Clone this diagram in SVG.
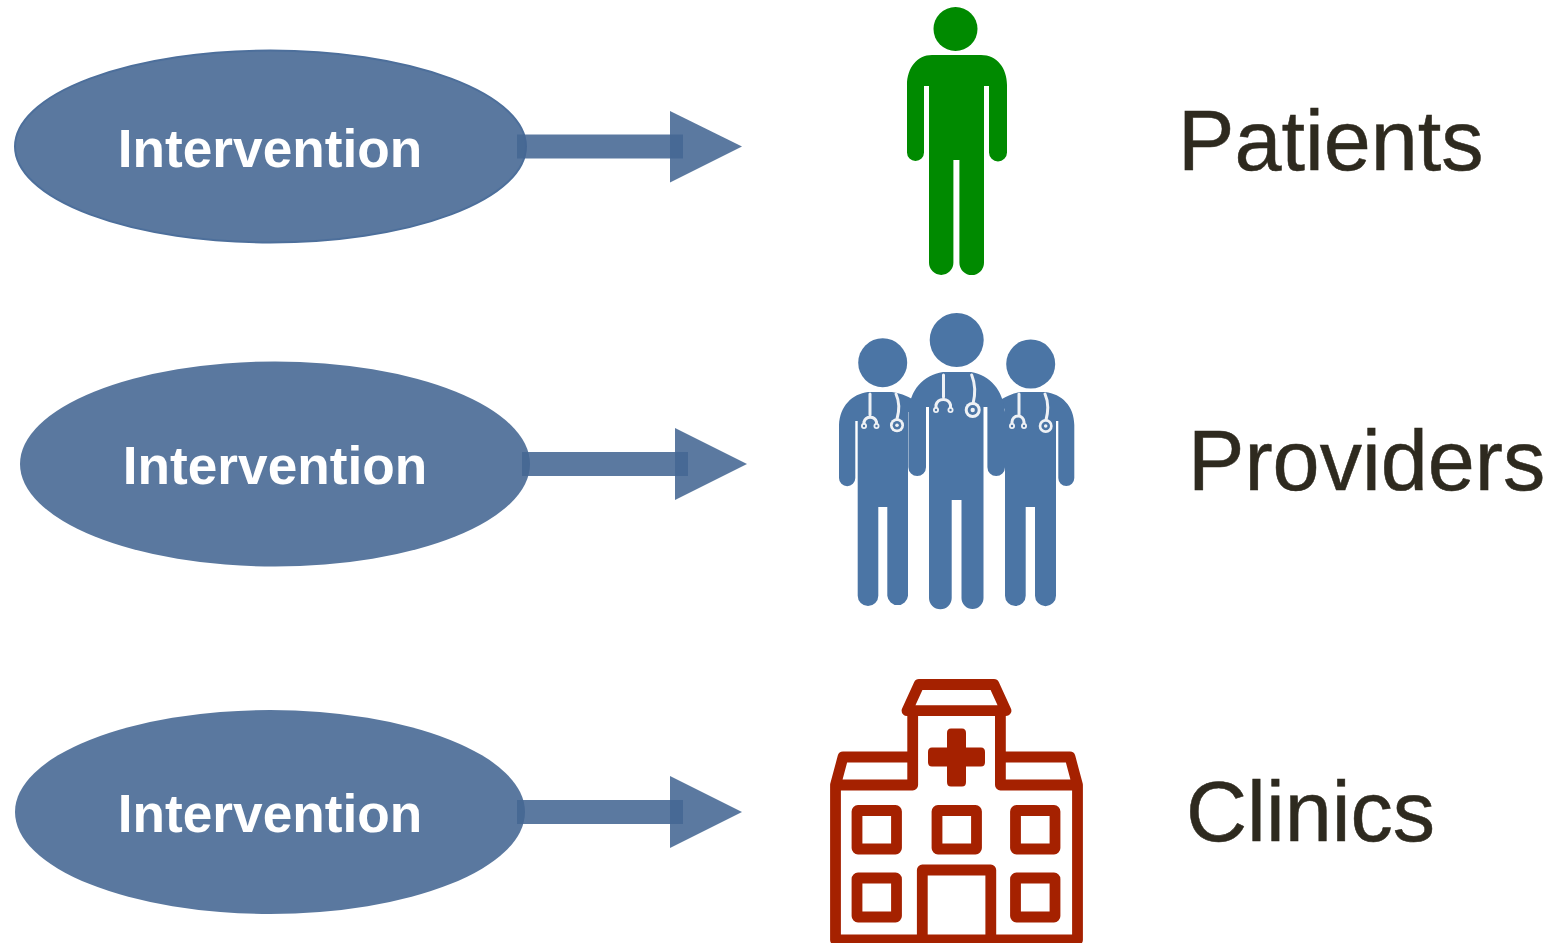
<svg xmlns="http://www.w3.org/2000/svg" width="1560" height="943" viewBox="0 0 1560 943">
<style>
.oval{fill:#5a789f}
.shape{fill:#446693;fill-opacity:.88}
.in{font-family:"Liberation Sans",Arial,sans-serif;font-weight:700;font-size:53.200px;fill:#fff;text-anchor:middle}
.lb{font-family:"Liberation Sans",Arial,sans-serif;font-size:84.600px;fill:#2e2a1f;stroke:#2e2a1f;stroke-width:.5}
.doc{fill:#4b75a5}
.st{fill:none;stroke:#eef1f5;stroke-width:3;stroke-linecap:round}
.ring{fill:#eef1f5}
.hub{fill:#4b75a5}
.cl{fill:none;stroke:#a52100;stroke-width:10.800;stroke-linejoin:round}
</style>
<rect width="1560" height="943" fill="#fff"/>
<g id="node-intervention-1"><ellipse class="oval" cx="270.500" cy="146.500" rx="255.500" ry="96" stroke="#4d6f9b" stroke-width="2"/><text class="in" x="270" y="167">Intervention</text></g>
<g id="node-intervention-2"><ellipse class="oval" cx="275" cy="464" rx="255" ry="102.500"/><text class="in" x="275" y="484">Intervention</text></g>
<g id="node-intervention-3"><ellipse class="oval" cx="270" cy="812" rx="255" ry="102"/><text class="in" x="270" y="832">Intervention</text></g>
<g id="connectors">
<rect class="shape" x="517" y="134.500" width="166" height="24"/><path class="shape" d="M670 111L742 146.500L670 182.500Z"/>
<rect class="shape" x="522" y="452" width="166" height="24"/><path class="shape" d="M675 428L747 464L675 500Z"/>
<rect class="shape" x="517" y="800" width="166" height="24"/><path class="shape" d="M670 776L742 812L670 848Z"/>
</g>
<g id="node-patients">
<circle cx="955.500" cy="29" r="22" fill="#008a00"/>
<path fill="#008a00" d="M932 55H981C997 55 1007 68 1007 85V152.500A8.500 8.500 0 0 1 989 152.500V86H984V262.700A12.300 12.300 0 0 1 959.400 262.700V160H953.400V262.700A12.200 12.200 0 0 1 929 262.700V86H924V152.500A8.500 8.500 0 0 1 907 152.500V85C907 68 917 55 932 55Z"/>
<text class="lb" x="1178" y="170">Patients</text>
</g>
<g id="node-providers">
<circle cx="882.700" cy="362.700" r="24.500" class="doc"/>
<circle cx="1030.700" cy="364" r="24.500" class="doc"/>
<circle cx="956.700" cy="340" r="27" class="doc"/>
<path class="doc" d="M868 392H892Q902 393 914 400V412H908V595.700A10.400 10.400 0 0 1 887.300 595.700V507H878.300V595.700A10.300 10.300 0 0 1 857.700 595.700V421H855.300V478A8 8 0 0 1 839 478V425C840 406 852 394 868 392Z"/>
<path class="doc" d="M1021 392H1045C1062 394 1074 406 1074.300 425V478A8 8 0 0 1 1058.300 478V421H1056V595.700A10.500 10.500 0 0 1 1035 595.700V507H1025.700V595.700A10.300 10.300 0 0 1 1005 595.700V410L1000 400Q1012 393 1021 392Z"/>
<path class="doc" d="M943 372H971C990 375 1003 390 1005 412V467.200A8.800 8.800 0 0 1 987.400 467.200V407H983.500V598A11 11 0 0 1 961.500 598V500H951.700V598A11.350 11.350 0 0 1 929 598V407H926V467.200A8.800 8.800 0 0 1 908.400 467.200V412C910 390 923 375 943 372Z"/>
<g class="st">
<path d="M943.500 375V397M936 408V405A7.500 7.500 0 0 1 950.500 405V408M971.700 375Q977 388 973 404"/>
<path d="M870 394V415M864 424V422A6.500 6.500 0 0 1 876.500 422V424M896 394Q901 405 897 419"/>
<path d="M1019 394V415M1012 424V422A6 6 0 0 1 1024 422V424M1045 394Q1050 405 1046 420"/>
</g>
<g class="ring">
<circle cx="936" cy="410" r="3"/><circle cx="950.500" cy="410" r="3"/><circle cx="972.700" cy="410" r="8"/>
<circle cx="864" cy="426" r="3"/><circle cx="876.500" cy="426" r="3"/><circle cx="897" cy="425.300" r="7"/>
<circle cx="1012" cy="426" r="3"/><circle cx="1024" cy="426" r="3"/><circle cx="1045.700" cy="426" r="7"/>
</g>
<g class="hub">
<circle cx="972.700" cy="410" r="5"/><circle cx="897" cy="425.300" r="4.300"/><circle cx="1045.700" cy="426" r="4.300"/>
<circle cx="936" cy="410" r="1.200"/><circle cx="950.500" cy="410" r="1.200"/><circle cx="864" cy="426" r="1.200"/><circle cx="876.500" cy="426" r="1.200"/><circle cx="1012" cy="426" r="1.200"/><circle cx="1024" cy="426" r="1.200"/>
</g>
<g class="ring"><circle cx="972.700" cy="410" r="2.200"/><circle cx="897" cy="425.300" r="1.800"/><circle cx="1045.700" cy="426" r="1.800"/></g>
<text class="lb" x="1188" y="490">Providers</text>
</g>
<g id="node-clinics">
<path class="cl" d="M919 684.500H994L1006 710.700H907ZM912.700 710.700V785H835.500L843 757H912.700M1000.400 710.700V785H1077.500L1070 757H1000.400M835.500 785V940H1077.500V785"/>
<rect class="cl" x="857" y="810.500" width="39.500" height="38.500" rx="1"/>
<rect class="cl" x="937" y="810.500" width="39.500" height="38.500" rx="1"/>
<rect class="cl" x="1015.500" y="810.500" width="39.500" height="38.500" rx="1"/>
<rect class="cl" x="857" y="878" width="39.500" height="39" rx="1"/>
<rect class="cl" x="1015.500" y="878" width="39.500" height="39" rx="1"/>
<path class="cl" d="M922.300 940V870H990.800V940"/>
<path fill="#a52100" d="M951 728.500H962Q966 728.500 966 733V747.500H981Q985 747.500 985 752V762Q985 766.500 981 766.500H966V782Q966 786.500 962 786.500H951Q947 786.500 947 782V766.500H932Q928 766.500 928 762V752Q928 747.500 932 747.500H947V733Q947 728.500 951 728.500Z"/>
<text class="lb" x="1186" y="841">Clinics</text>
</g>
</svg>
